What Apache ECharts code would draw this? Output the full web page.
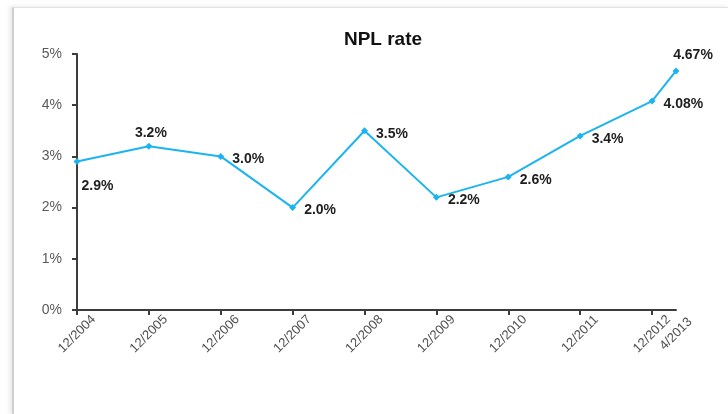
<!DOCTYPE html>
<html>
<head>
<meta charset="utf-8">
<title>NPL rate</title>
<script src="https://cdn.jsdelivr.net/npm/echarts@6/dist/echarts.min.js"></script>
<style>
  html, body { margin: 0; padding: 0; background: #ffffff; }
  #frame {
    position: absolute; left: 12px; top: 7px; width: 716px; height: 407px;
    background: #ffffff;
    border-left: 2px solid #cfcfcf;
    border-top: 1px solid #e2e2e2;
    box-shadow: -3px -1px 4px rgba(0,0,0,0.08);
  }
  #chart { position: absolute; left: 0; top: 0; width: 728px; height: 414px; }
</style>
</head>
<body>
<div id="frame"></div>
<div id="chart"></div>
<script>
// Reporting dates, months elapsed since 12/2004, and the NPL ratio (%)
const periods = ['12/2004', '12/2005', '12/2006', '12/2007', '12/2008',
                 '12/2009', '12/2010', '12/2011', '12/2012', '4/2013'];
const monthsSinceStart = [0, 12, 24, 36, 48, 60, 72, 84, 96, 100];
const nplRate = [2.9, 3.2, 3.0, 2.0, 3.5, 2.2, 2.6, 3.4, 4.08, 4.67];
const valueText = ['2.9%', '3.2%', '3.0%', '2.0%', '3.5%', '2.2%', '2.6%', '3.4%', '4.08%', '4.67%'];
const yTicks = [0, 1, 2, 3, 4, 5];

// where each value label sits relative to its point
const labelSide = ['below', 'top', 'right', 'right', 'right',
                   'right', 'right', 'right', 'right', 'topRight'];

const labelStyles = {
  right:    { position: 'right', distance: 8, offset: [0, 3] },
  below:    { position: 'right', distance: 1, offset: [0, 25] },
  top:      { position: 'top', distance: 3, offset: [2, 0] },
  topRight: { position: 'top', distance: 5, offset: [17, 0] }
};

const seriesData = nplRate.map((v, i) => ({
  value: [monthsSinceStart[i], v],
  label: Object.assign({ formatter: valueText[i] }, labelStyles[labelSide[i]])
}));

const chart = echarts.init(document.getElementById('chart'), null, { renderer: 'canvas' });
const axisDark = '#3c3c3c';
const font = 'Liberation Sans, Arial, sans-serif';

chart.setOption({
  backgroundColor: 'transparent',
  animation: false,
  title: {
    text: 'NPL rate',
    left: 378, top: 25, textAlign: 'center',
    textStyle: { fontFamily: font, fontSize: 19, fontWeight: 'bold', color: '#111' }
  },
  grid: { left: 77, right: 52, top: 54, bottom: 104 },
  xAxis: {
    type: 'value',
    min: monthsSinceStart[0],
    max: monthsSinceStart[monthsSinceStart.length - 1],
    splitLine: { show: false },
    axisLine: { show: true, lineStyle: { color: axisDark, width: 2 } },
    axisTick: {
      show: true, length: 5,
      lineStyle: { color: axisDark, width: 2 },
      customValues: monthsSinceStart.slice(0, -1)
    },
    axisLabel: {
      customValues: monthsSinceStart,
      rotate: 45,
      align: 'center',
      verticalAlign: 'middle',
      margin: 24,
      fontFamily: font,
      fontSize: 13,
      color: '#505050',
      formatter: v => periods[monthsSinceStart.indexOf(v)] || ''
    }
  },
  yAxis: {
    type: 'value',
    min: yTicks[0], max: yTicks[yTicks.length - 1], interval: 1,
    splitLine: { show: false },
    axisLine: { show: true, lineStyle: { color: axisDark, width: 2 } },
    axisTick: { show: true, length: 5, lineStyle: { color: axisDark, width: 2 } },
    axisLabel: {
      margin: 15,
      fontFamily: font,
      fontSize: 14,
      color: '#5a5a5a',
      formatter: '{value}%'
    }
  },
  series: [{
    type: 'line',
    data: seriesData,
    symbol: 'diamond',
    symbolSize: 7,
    lineStyle: { color: '#1cb4f0', width: 2 },
    itemStyle: { color: '#1cb4f0' },
    label: {
      show: true,
      fontFamily: font,
      fontSize: 14,
      fontWeight: 'bold',
      color: '#1e1e1e'
    }
  }]
});
</script>
</body>
</html>
